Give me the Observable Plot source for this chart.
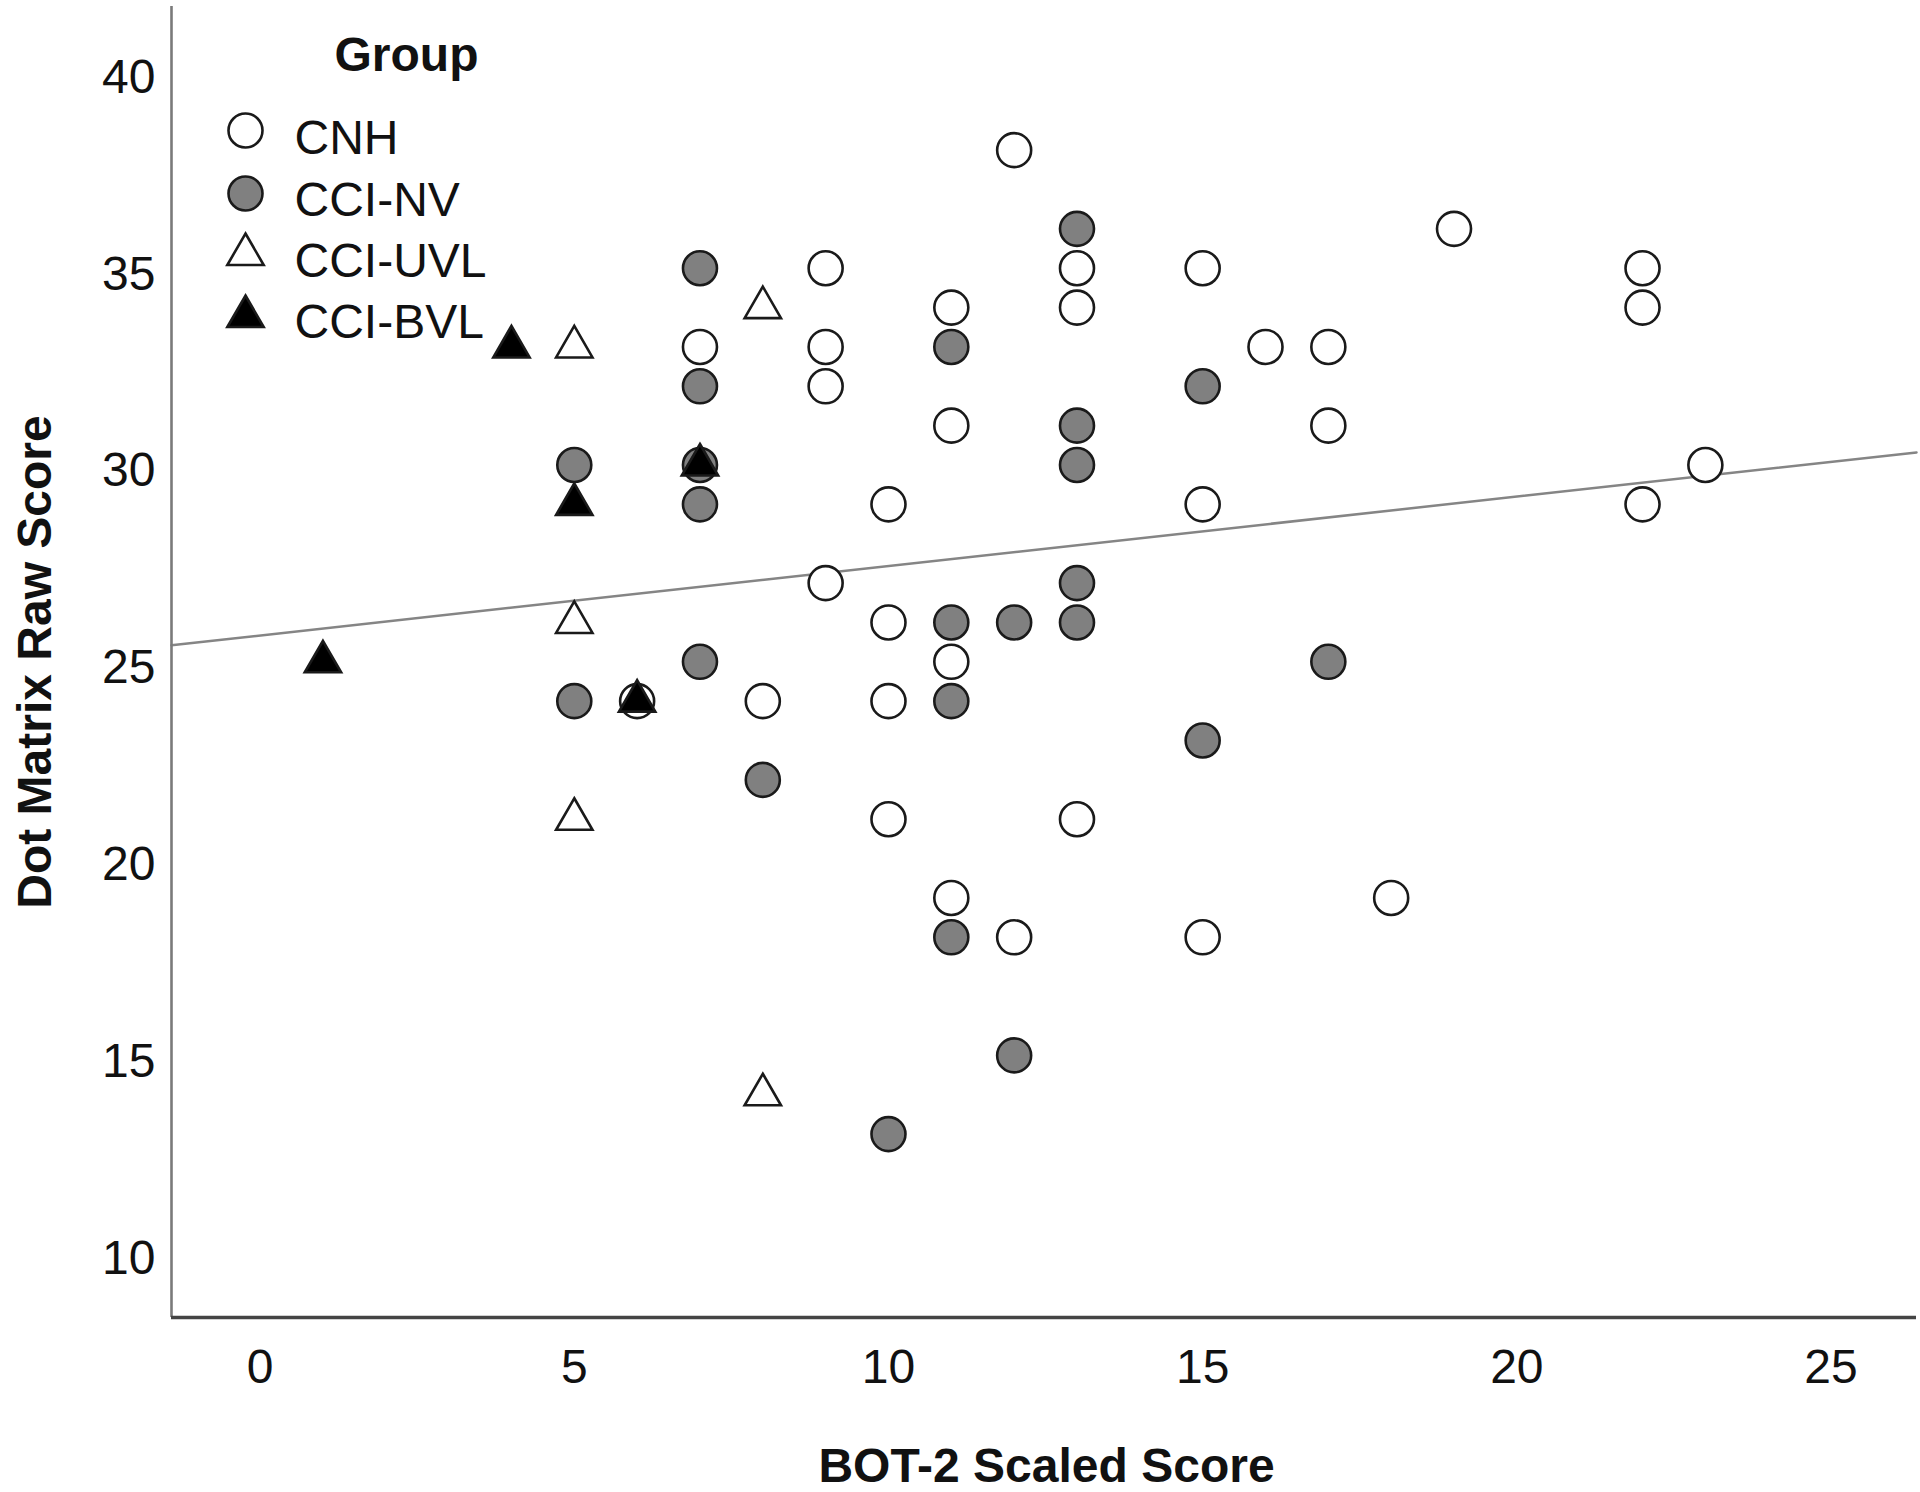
<!DOCTYPE html>
<html>
<head>
<meta charset="utf-8">
<script src="https://cdn.jsdelivr.net/npm/d3@7"></script>
<script src="https://cdn.jsdelivr.net/npm/@observablehq/plot@0.6"></script>
<style>
  html, body { margin: 0; padding: 0; background: #ffffff; }
  #chart svg { display: block; }
</style>
</head>
<body>
<div id="chart"></div>
<script>
// ---- Data ----
const groups = ["CNH", "CCI-NV", "CCI-UVL", "CCI-BVL"];

const cnhX = [12, 19, 9, 13, 15, 22, 11, 13, 22, 7, 9, 16, 17, 9, 11, 17, 23, 10, 15, 22, 9, 10, 11, 8, 10, 6, 10, 13, 11, 18, 12, 15];
const cnhY = [38, 36, 35, 35, 35, 35, 34, 34, 34, 33, 33, 33, 33, 32, 31, 31, 30, 29, 29, 29, 27, 26, 25, 24, 24, 24, 21, 21, 19, 19, 18, 18];

const nvX = [13, 7, 11, 7, 15, 13, 5, 7, 13, 7, 13, 11, 12, 13, 7, 17, 5, 11, 15, 8, 11, 12, 10];
const nvY = [36, 35, 33, 32, 32, 31, 30, 30, 30, 29, 27, 26, 26, 26, 25, 25, 24, 24, 23, 22, 18, 15, 13];

const uvlX = [8, 5, 5, 5, 8];
const uvlY = [34, 33, 26, 21, 14];

const bvlX = [4, 7, 5, 6, 1];
const bvlY = [33, 30, 29, 24, 25];

// fit line end points
const fitX = [-1.41, 26.36];
const fitY = [25.42, 30.32];

const xTicks = [0, 5, 10, 15, 20, 25];
const yTicks = [10, 15, 20, 25, 30, 35, 40];
const xDomain = [-1.41, 26.36];
const yDomain = [8.34, 41.65];

const xTitle = "BOT-2 Scaled Score";
const yTitle = "Dot Matrix Raw Score";
const legendTitle = "Group";

// ---- Build tables ----
const toPts = (xs, ys) => xs.map((x, i) => ({x, y: ys[i]}));
const series = [toPts(cnhX, cnhY), toPts(nvX, nvY), toPts(uvlX, uvlY), toPts(bvlX, bvlY)];
const fit = toPts(fitX, fitY);

const FONT = "'Liberation Sans', Arial, Helvetica, sans-serif";
const styles = [
  {symbol: "circle", fill: "#ffffff", r: 17},
  {symbol: "circle", fill: "#808080", r: 17},
  {symbol: "triangle", fill: "#ffffff", r: 13.5},
  {symbol: "triangle", fill: "#000000", r: 13.5}
];
const dotStroke = "#1a1a1a";
const dotStrokeWidth = 2.6;

const marks = [];
marks.push(Plot.line(fit, {x: "x", y: "y", stroke: "#858585", strokeWidth: 2.5}));
series.forEach((d, i) => {
  marks.push(Plot.dot(d, {x: "x", y: "y", symbol: () => styles[i].symbol, r: styles[i].r,
    fill: styles[i].fill, stroke: dotStroke, strokeWidth: dotStrokeWidth}));
});

// axes
marks.push(Plot.ruleX([xDomain[0]], {stroke: "#7a7a7a", strokeWidth: 2.6}));
marks.push(Plot.ruleY([yDomain[0]], {stroke: "#444444", strokeWidth: 3.5}));
marks.push(Plot.axisX({ticks: xTicks, tickSize: 0, tickPadding: 31, fontSize: 48, label: null, fill: "#111"}));
marks.push(Plot.axisY({ticks: yTicks, tickSize: 0, tickPadding: 16, dy: 6, fontSize: 48, label: null, fill: "#111"}));

// axis titles
marks.push(Plot.text([xTitle], {frameAnchor: "bottom", text: d => d, dx: 2.5, dy: 149.6,
  textAnchor: "middle", lineAnchor: "middle", fontSize: 48, fontWeight: "bold", fill: "#111"}));
marks.push(Plot.text([yTitle], {frameAnchor: "left", text: d => d, rotate: -90, dx: -135.4, dy: 0,
  textAnchor: "middle", lineAnchor: "middle", fontSize: 48, fontWeight: "bold", fill: "#111"}));

// legend (inside the frame, top-left)
marks.push(Plot.text([legendTitle], {frameAnchor: "top-left", text: d => d, dx: 235, dy: 49.6,
  textAnchor: "middle", lineAnchor: "middle", fontSize: 48, fontWeight: "bold", fill: "#111"}));
const legendSymDy = [124, 187, 248, 310];
groups.forEach((g, i) => {
  marks.push(Plot.dot([g], {frameAnchor: "top-left", dx: 74, dy: legendSymDy[i],
    symbol: () => styles[i].symbol, r: styles[i].r, fill: styles[i].fill,
    stroke: dotStroke, strokeWidth: dotStrokeWidth}));
  marks.push(Plot.text([g], {frameAnchor: "top-left", text: d => d, dx: 123, dy: 132.6 + i * 61.3,
    textAnchor: "start", lineAnchor: "middle", fontSize: 48, fill: "#111"}));
});

const chart = Plot.plot({
  width: 1920,
  height: 1492,
  marginLeft: 171,
  marginRight: 4,
  marginTop: 6,
  marginBottom: 175,
  style: {fontFamily: FONT, fontSize: "48px", background: "#ffffff", color: "#111", overflow: "visible"},
  x: {domain: xDomain, label: null},
  y: {domain: yDomain, label: null},
  marks
});
document.getElementById("chart").appendChild(chart);
</script>
</body>
</html>
